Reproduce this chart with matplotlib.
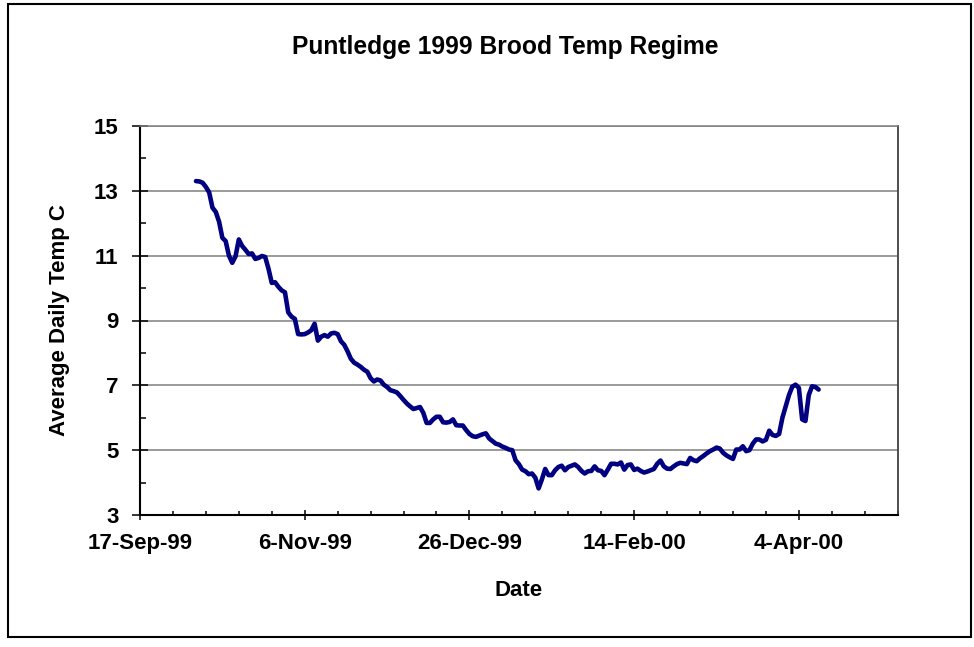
import datetime as dt
import numpy as np
import matplotlib
matplotlib.use("Agg")
import matplotlib.pyplot as plt
import matplotlib.dates as mdates
from matplotlib.ticker import FixedLocator, FuncFormatter
from matplotlib.patches import Rectangle

# --- Data: average daily brood temperature (C), one value per day from 4-Oct-99 ---
start_date = dt.date(1999, 10, 4)
temps = [
    13.30, 13.29, 13.25, 13.12, 12.95, 12.48, 12.35, 12.05, 11.55, 11.45,
    11.00, 10.78, 10.98, 11.50, 11.30, 11.18, 11.05, 11.07, 10.90, 10.93,
    10.99, 10.96, 10.60, 10.16, 10.18, 10.04, 9.93, 9.87, 9.25, 9.12,
    9.05, 8.58, 8.57, 8.58, 8.63, 8.70, 8.90, 8.38, 8.50, 8.55,
    8.50, 8.60, 8.62, 8.58, 8.36, 8.25, 8.05, 7.82, 7.70, 7.64,
    7.57, 7.48, 7.42, 7.22, 7.12, 7.18, 7.15, 7.02, 6.95, 6.85,
    6.82, 6.78, 6.67, 6.55, 6.44, 6.35, 6.27, 6.30, 6.33, 6.15,
    5.84, 5.84, 5.95, 6.03, 6.03, 5.86, 5.85, 5.87, 5.95, 5.77,
    5.76, 5.76, 5.62, 5.50, 5.43, 5.41, 5.45, 5.49, 5.52, 5.36,
    5.28, 5.20, 5.17, 5.11, 5.07, 5.02, 5.00, 4.69, 4.57, 4.40,
    4.35, 4.26, 4.28, 4.15, 3.82, 4.10, 4.42, 4.23, 4.23, 4.38,
    4.48, 4.52, 4.38, 4.48, 4.52, 4.56, 4.48, 4.36, 4.28, 4.35,
    4.36, 4.50, 4.38, 4.36, 4.23, 4.40, 4.58, 4.58, 4.56, 4.62,
    4.40, 4.54, 4.56, 4.39, 4.43, 4.36, 4.31, 4.34, 4.38, 4.42,
    4.58, 4.68, 4.50, 4.43, 4.42, 4.50, 4.57, 4.61, 4.59, 4.57,
    4.76, 4.69, 4.66, 4.75, 4.82, 4.90, 4.97, 5.02, 5.08, 5.05,
    4.92, 4.84, 4.78, 4.73, 5.02, 5.02, 5.12, 4.97, 5.00, 5.20,
    5.33, 5.33, 5.27, 5.32, 5.60, 5.47, 5.44, 5.50, 6.00, 6.35,
    6.70, 6.96, 7.02, 6.92, 5.95, 5.90, 6.70, 6.97, 6.95, 6.87,
]
dates = [start_date + dt.timedelta(days=i) for i in range(len(temps))]

title = "Puntledge 1999 Brood Temp Regime"
x_label = "Date"
y_label = "Average Daily Temp C"
x_min, x_max = dt.date(1999, 9, 17), dt.date(2000, 5, 4)
y_ticks = [3, 5, 7, 9, 11, 13, 15]
y_minor = [4, 6, 8, 10, 12, 14]

# --- Figure ---
fig = plt.figure(figsize=(9.74, 6.47), dpi=100)
fig.patch.set_facecolor("white")
plt.rcParams["font.family"] = ["Liberation Sans", "DejaVu Sans"]

# outer chart border
fig.patches.append(Rectangle((8 / 974, 1 - 637 / 647), 963 / 974, 633 / 647,
                             transform=fig.transFigure, fill=False,
                             edgecolor="black", linewidth=1.5))

ax = fig.add_axes([140 / 974, 1 - 515 / 647, 757.7 / 974, 389 / 647])
ax.plot(mdates.date2num(dates), temps, color="#000080", linewidth=3.3,
        solid_joinstyle="round", solid_capstyle="round", zorder=3)

ax.set_xlim(mdates.date2num(x_min), mdates.date2num(x_max))
ax.set_ylim(y_ticks[0], y_ticks[-1])

# gridlines on major y ticks
ax.yaxis.set_major_locator(FixedLocator(y_ticks))
ax.yaxis.set_minor_locator(FixedLocator(y_minor))
ax.grid(axis="y", which="major", color="#7f7f7f", linewidth=1.1, zorder=1)

x0 = mdates.date2num(x_min)
major_x = [x0 + d for d in range(0, 231, 50)]
minor_x = [x0 + d for d in range(0, 231, 10) if d % 50 != 0]
ax.xaxis.set_major_locator(FixedLocator(major_x))
ax.xaxis.set_minor_locator(FixedLocator(minor_x))


def fmt_date(v, pos):
    d = mdates.num2date(v)
    return f"{d.day}-{d.strftime('%b-%y')}"


ax.xaxis.set_major_formatter(FuncFormatter(fmt_date))

for side in ["left", "bottom"]:
    ax.spines[side].set_color("black")
    ax.spines[side].set_linewidth(1.5)
ax.spines["top"].set_color("#7f7f7f")
ax.spines["top"].set_linewidth(1.1)
ax.spines["right"].set_color("#404040")
ax.spines["right"].set_linewidth(1.3)

ax.tick_params(axis="x", which="major", direction="inout", length=7.5, width=1.1,
               pad=9, labelsize=16)
ax.tick_params(axis="x", which="minor", direction="in", length=3, width=1.1)
ax.tick_params(axis="y", which="major", direction="inout", length=11, width=1.1,
               pad=10, labelsize=16)
ax.tick_params(axis="y", which="minor", direction="in", length=4, width=1.1)
for lab in ax.get_xticklabels() + ax.get_yticklabels():
    lab.set_fontweight("bold")

fig.text(505 / 974, 1 - 47 / 647, title, ha="center", va="center",
         fontsize=17.7, fontweight="bold")
fig.text(519 / 974, 1 - 590 / 647, x_label, ha="center", va="center",
         fontsize=16, fontweight="bold")
fig.text(60 / 974, 1 - 320 / 647, y_label, ha="center", va="center",
         rotation=90, fontsize=16, fontweight="bold")

fig.savefig("out.png", dpi=100, facecolor="white")
